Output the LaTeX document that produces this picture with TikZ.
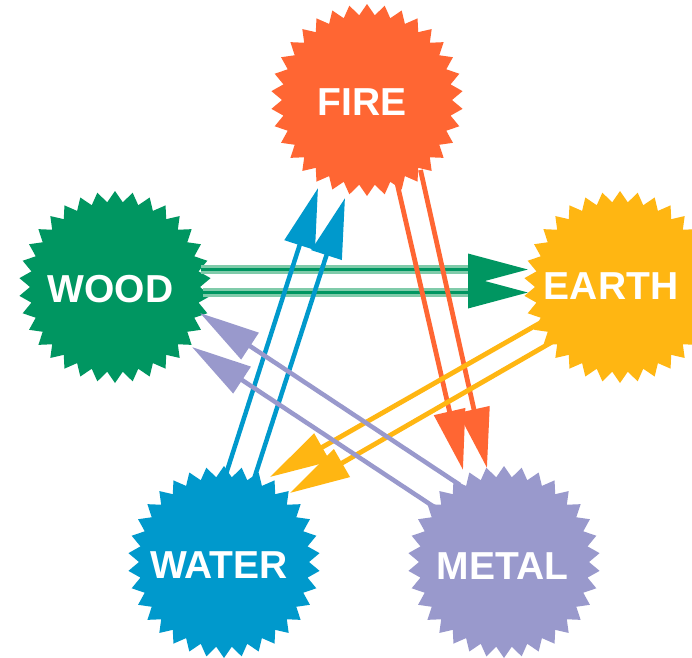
\documentclass[tikz,border=0pt]{standalone}
\usepackage{fontspec}
\setmainfont{Liberation Sans}
\usetikzlibrary{arrows.meta}
\definecolor{cfire}{HTML}{FF6633}
\definecolor{cwood}{HTML}{009661}
\definecolor{cwoodlight}{HTML}{80CBAA}
\definecolor{cearth}{HTML}{FFB612}
\definecolor{cwater}{HTML}{0099CC}
\definecolor{cmetal}{HTML}{9999CC}
\newcommand\myburst[3]{%
  \fill[#3, shift={(#1,#2)}] (90:96)
    \foreach \k [evaluate=\k as \rr using {96-11*mod(\k,2)}, evaluate=\k as \aa using {90+\k*(360/68)}] in {1,...,67}{ -- (\aa:\rr) } -- cycle;}
\tikzset{
  lbl/.style={text=white, font=\bfseries\fontsize{39}{39}\selectfont, inner sep=0pt},
  arr/.style={line width=#1, -{Triangle[length=60pt,width=31pt]}},
  halo/.style={line width=9pt, cwoodlight, shorten >=50pt},
}
\begin{document}
\begin{tikzpicture}[x=1pt,y=-1pt]
\useasboundingbox (0,0) rectangle (692,657);
\clip (0,0) rectangle (692,657);
\fill[white] (0,0) rectangle (692,657);
% starbursts
\myburst{367}{100}{cfire}
\myburst{115}{287}{cwood}
\myburst{620}{287}{cearth}
\myburst{224}{562}{cwater}
\myburst{504}{562}{cmetal}
% labels
\node[lbl] (fire)  at (362,102)   {FIRE};
\node[lbl] (wood)  at (110.5,289) {WOOD};
\node[lbl] (earth) at (611,286)   {EARTH};
\node[lbl] (water) at (219,565)   {WATER};
\node[lbl] (metal) at (502.5,566) {METAL};
% connector end points
\coordinate (g1s) at (201,269.5); \coordinate (g1e) at (528,269.5);
\coordinate (g2s) at (203,292.5); \coordinate (g2e) at (528,292.5);
\coordinate (b1s) at (226,474);   \coordinate (b1e) at (318,188);
\coordinate (b2s) at (254,479);   \coordinate (b2e) at (345,198);
\coordinate (o1s) at (397,183);   \coordinate (o1e) at (463,470);
\coordinate (o2s) at (420.5,170); \coordinate (o2e) at (487,468);
\coordinate (y1s) at (540,323);   \coordinate (y1e) at (270,477);
\coordinate (y2s) at (552,342);   \coordinate (y2e) at (290,493);
\coordinate (p1s) at (460,485);   \coordinate (p1e) at (200,313);
\coordinate (p2s) at (435,507.5); \coordinate (p2e) at (192,347);
% wood -> earth
\draw[halo] (g1s) -- (g1e);
\draw[halo] (g2s) -- (g2e);
\draw[arr=3.5pt, cwood] (g1s) -- (g1e);
\draw[arr=3.5pt, cwood] (g2s) -- (g2e);
% fire -> metal
\draw[arr=4.8pt, cfire] (o1s) -- (o1e);
\draw[arr=4.8pt, cfire] (o2s) -- (o2e);
% earth -> water
\draw[arr=4.8pt, cearth] (y1s) -- (y1e);
\draw[arr=4.8pt, cearth] (y2s) -- (y2e);
% water -> fire
\draw[arr=4.5pt, cwater] (b1s) -- (b1e);
\draw[arr=4.5pt, cwater] (b2s) -- (b2e);
% metal -> wood
\draw[arr=4.5pt, cmetal] (p1s) -- (p1e);
\draw[arr=4.5pt, cmetal] (p2s) -- (p2e);
\end{tikzpicture}
\end{document}
